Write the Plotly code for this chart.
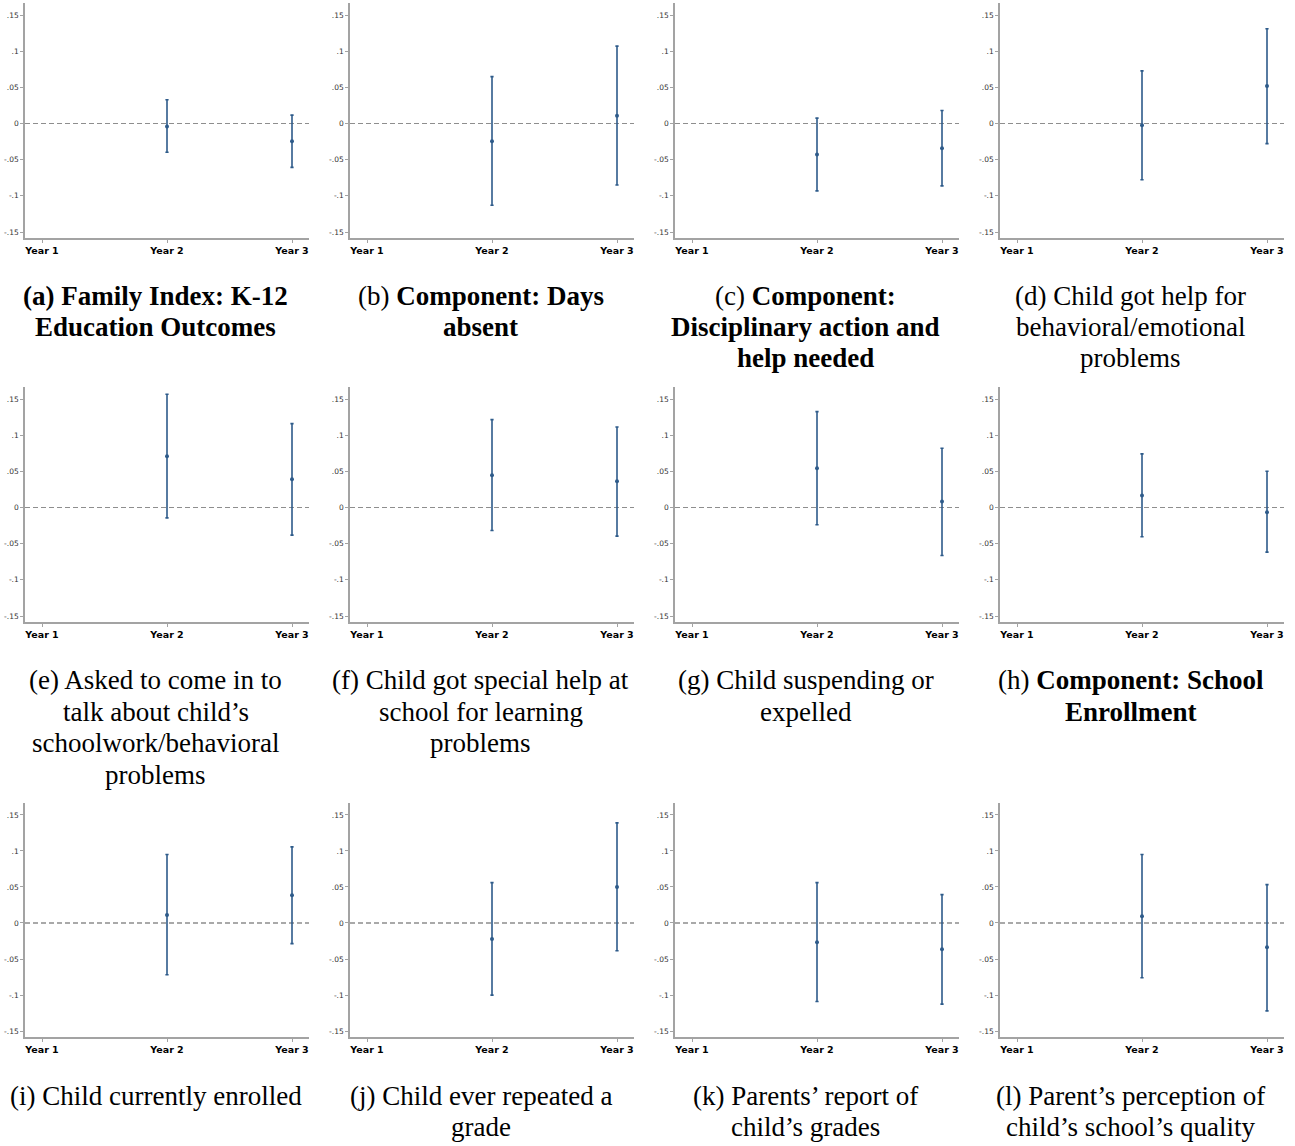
import plotly.graph_objects as go

W, H = 1295, 1146

# ---------------- data ----------------
panel_ids = ["a", "b", "c", "d", "e", "f", "g", "h", "i", "j", "k", "l"]
year_vals = [1, 2, 3]
year_labels = ["Year 1", "Year 2", "Year 3"]
ytick_vals = [-0.15, -0.1, -0.05, 0, 0.05, 0.1, 0.15]
ytick_text = ["-.15", "-.1", "-.05", "0", ".05", ".1", ".15"]

# Year 2 estimates and 95% CI bounds, one value per panel (a..l)
est_year2 = [-0.0042, -0.0245, -0.0429, -0.0023, 0.0709, 0.0446, 0.0543, 0.0166, 0.0111, -0.0223, -0.0269, 0.0093]
hi_year2 = [0.0329, 0.0648, 0.0074, 0.0727, 0.1565, 0.1215, 0.1325, 0.0741, 0.0950, 0.0561, 0.0561, 0.0950]
lo_year2 = [-0.0398, -0.1130, -0.0931, -0.0778, -0.0143, -0.0318, -0.0239, -0.0405, -0.0719, -0.1001, -0.1090, -0.0760]

# Year 3 estimates and 95% CI bounds
est_year3 = [-0.0245, 0.0106, -0.0341, 0.0519, 0.0391, 0.0364, 0.0083, -0.0064, 0.0385, 0.0501, -0.0366, -0.0338]
hi_year3 = [0.0116, 0.1070, 0.0180, 0.1310, 0.1160, 0.1114, 0.0819, 0.0502, 0.1057, 0.1390, 0.0394, 0.0533]
lo_year3 = [-0.0606, -0.0850, -0.0862, -0.0278, -0.0382, -0.0396, -0.0663, -0.0617, -0.0287, -0.0385, -0.1127, -0.1220]

# caption lines per panel
captions = [
    ["<b>(a) Family Index: K-12</b>", "<b>Education Outcomes</b>"],
    ["(b) <b>Component: Days</b>", "<b>absent</b>"],
    ["(c) <b>Component:</b>", "<b>Disciplinary action and</b>", "<b>help needed</b>"],
    ["(d) Child got help for", "behavioral/emotional", "problems"],
    ["(e) Asked to come in to", "talk about child\u2019s", "schoolwork/behavioral", "problems"],
    ["(f) Child got special help at", "school for learning", "problems"],
    ["(g) Child suspending or", "expelled"],
    ["(h) <b>Component: School</b>", "<b>Enrollment</b>"],
    ["(i) Child currently enrolled"],
    ["(j) Child ever repeated a", "grade"],
    ["(k) Parents\u2019 report of", "child\u2019s grades"],
    ["(l) Parent\u2019s perception of", "child\u2019s school\u2019s quality"],
]

# ---------------- layout geometry (pixels) ----------------
col_left = [25, 350, 675, 1000]
plot_w = 284
row_top_bottom = [(3, 238), (387, 622), (803, 1037)]
caption_rows_y = [[296, 327, 358], [680, 712, 743, 775], [1096, 1127]]
cap_center_offset = 130.5

bar_color = "#2e5b8a"
axis_color = "#a3a3a3"
zero_colors = ["#8e8e8e", "#8e8e8e", "#555555"]

fig = go.Figure()
layout = dict(
    width=W, height=H,
    margin=dict(l=0, r=0, t=0, b=0),
    paper_bgcolor="white", plot_bgcolor="white",
    showlegend=False,
)
shapes = []
annotations = []

for i, pid in enumerate(panel_ids):
    r, c = divmod(i, 4)
    n = i + 1
    xs = "" if n == 1 else str(n)
    x0 = col_left[c] / W
    x1 = (col_left[c] + plot_w) / W
    top, bot = row_top_bottom[r]
    y0 = 1 - bot / H
    y1 = 1 - top / H

    est = [est_year2[i], est_year3[i]]
    up = [hi_year2[i] - est_year2[i], hi_year3[i] - est_year3[i]]
    dn = [est_year2[i] - lo_year2[i], est_year3[i] - lo_year3[i]]

    fig.add_trace(go.Scatter(
        x=year_vals[1:], y=est, mode="markers",
        marker=dict(color=bar_color, size=4, symbol="circle"),
        error_y=dict(type="data", symmetric=False, array=up, arrayminus=dn,
                     color=bar_color, thickness=1.6, width=1.6),
        xaxis="x" + xs, yaxis="y" + xs, hoverinfo="skip",
    ))

    layout["xaxis" + xs] = dict(
        domain=[x0, x1], anchor="y" + xs, range=[0.864, 3.136],
        tickmode="array", tickvals=year_vals, ticktext=year_labels,
        showline=True, linecolor=axis_color, linewidth=1.5,
        ticks="outside", ticklen=3, tickwidth=1, tickcolor=axis_color,
        showgrid=False, zeroline=False,
        tickfont=dict(family="DejaVu Sans", size=9.5, color="black", weight="bold"),
        fixedrange=True,
    )
    layout["yaxis" + xs] = dict(
        domain=[y0, y1], anchor="x" + xs, range=[-0.1583, 0.1666],
        tickmode="array", tickvals=ytick_vals, ticktext=ytick_text,
        showline=True, linecolor=axis_color, linewidth=1.5,
        ticks="outside", ticklen=3, tickwidth=1, tickcolor=axis_color,
        showgrid=False, zeroline=False,
        tickfont=dict(family="DejaVu Sans", size=7.5, color="#333333"),
        fixedrange=True,
    )

    shapes.append(dict(
        type="line", xref="x" + xs + " domain", yref="y" + xs,
        x0=0, x1=1, y0=0, y1=0,
        line=dict(color=zero_colors[r], width=1.2, dash="5px,3px"),
        layer="below",
    ))

    cx = (col_left[c] + cap_center_offset) / W
    for k, line in enumerate(captions[i]):
        ly = caption_rows_y[r][k]
        annotations.append(dict(
            text=line, xref="paper", yref="paper",
            x=cx, y=1 - ly / H, xanchor="center", yanchor="middle",
            showarrow=False,
            font=dict(family="Liberation Serif", size=27, color="black"),
        ))

layout["shapes"] = shapes
layout["annotations"] = annotations
fig.update_layout(**layout)
fig.write_html(
    "out.html",
    config={"displayModeBar": False},
    post_script="document.body.style.margin='0px';document.body.style.overflow='hidden';",
)
